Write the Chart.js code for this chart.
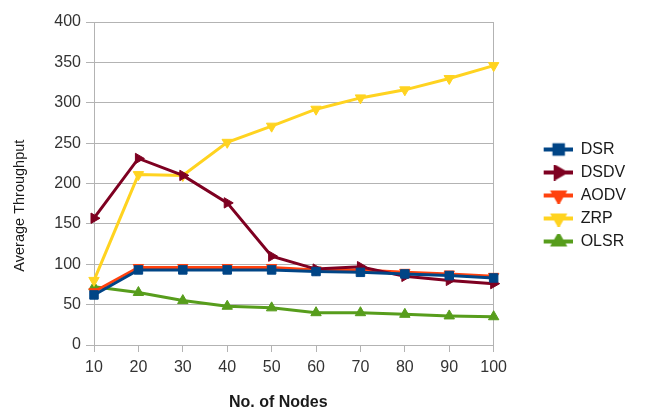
<!DOCTYPE html>
<html>
<head>
<meta charset="utf-8">
<script src="https://cdn.jsdelivr.net/npm/chart.js@4/dist/chart.umd.min.js"></script>
<style>
  html, body { margin: 0; padding: 0; background: #fff; }
  #wrap { width: 668px; height: 412px; }
</style>
</head>
<body>
<div id="wrap"><canvas id="myChart" width="668" height="412"></canvas></div>
<script>
'use strict';
const nodes = ['10', '20', '30', '40', '50', '60', '70', '80', '90', '100'];
const dsr = [62, 93, 93, 93, 93, 91, 90, 88, 86, 83];
const dsdv = [157, 231, 210, 176, 110, 94, 97, 85, 80, 76];
const aodv = [66, 96, 96, 96, 96, 93, 93, 90, 88, 85];
const zrp = [80, 211, 210, 251, 271, 292, 306, 316, 330, 346];
const olsr = [72, 65, 55, 48, 46, 40, 40, 38, 36, 35];
const yTicks = [0, 50, 100, 150, 200, 250, 300, 350, 400];

const font = 'Liberation Sans, Arial, sans-serif';
const gridColor = '#b3b3b3';

// line + marker picture for each legend entry, blank space on its left
// keeps the legend clear of the plot like in the original
function legendIcon(color, style, rotation) {
  const c = document.createElement('canvas');
  c.width = 72;
  c.height = 16;
  const g = c.getContext('2d');
  g.strokeStyle = color;
  g.lineWidth = 4;
  g.beginPath();
  g.moveTo(43, 8);
  g.lineTo(72, 8);
  g.stroke();
  g.fillStyle = color;
  Chart.helpers.drawPoint(g, { pointStyle: style, radius: 6, rotation: rotation, borderWidth: 1 }, 58, 8);
  g.fill();
  return c;
}

function series(label, data, color, style, rotation) {
  return {
    label: label,
    data: data,
    borderColor: color,
    backgroundColor: color,
    borderWidth: 3,
    pointStyle: style,
    pointRotation: rotation,
    pointRadius: 6,
    pointHoverRadius: 6,
    pointBorderWidth: 1,
    tension: 0,
    legendIcon: legendIcon(color, style, rotation),
  };
}

const ctx = document.getElementById('myChart');
const myChart = new Chart(ctx, {
  type: 'line',
  data: {
    labels: nodes,
    datasets: [
      series('DSR', dsr, '#004586', 'rect', 0),
      series('DSDV', dsdv, '#7e0021', 'triangle', 90),
      series('AODV', aodv, '#ff420e', 'triangle', 180),
      series('ZRP', zrp, '#ffd320', 'triangle', 180),
      series('OLSR', olsr, '#579d1c', 'triangle', 0),
    ],
  },
  options: {
    responsive: false,
    animation: false,
    layout: { padding: { top: 22, left: 11, right: 32, bottom: 0 } },
    plugins: {
      tooltip: { enabled: false },
      legend: {
        position: 'right',
        fullSize: false,
        title: { display: true, text: ' ', font: { size: 10 }, padding: 6 },
        labels: {
          usePointStyle: true,
          pointStyleWidth: 72,
          padding: 7,
          color: '#1a1a1a',
          font: { family: font, size: 16 },
          generateLabels: chart =>
            chart.data.datasets.map((ds, i) => ({
              text: ds.label,
              pointStyle: ds.legendIcon,
              fillStyle: ds.borderColor,
              strokeStyle: ds.borderColor,
              lineWidth: 0,
              fontColor: '#1a1a1a',
              datasetIndex: i,
              hidden: false,
            })),
        },
      },
    },
    scales: {
      x: {
        offset: false,
        title: {
          display: true,
          // trailing spaces nudge the title a little left, as in the original
          text: 'No. of Nodes       ',
          color: '#1a1a1a',
          font: { family: font, size: 16, weight: 'bold' },
          padding: { top: 8, bottom: 0 },
        },
        ticks: { color: '#333', font: { family: font, size: 16 }, padding: 6, maxRotation: 0 },
        grid: {
          drawOnChartArea: true,
          color: c => (c.index === nodes.length - 1 ? gridColor : 'rgba(0,0,0,0)'),
          tickColor: gridColor,
          tickLength: 7,
        },
        border: { display: true, color: gridColor },
        afterFit: axis => { axis.height = 67; },
      },
      y: {
        min: 0,
        max: 400,
        afterBuildTicks: axis => { axis.ticks = yTicks.map(v => ({ value: v })); },
        title: {
          display: true,
          // trailing spaces push the rotated title down a bit
          text: 'Average Throughput           ',
          color: '#1a1a1a',
          font: { family: font, size: 14.5 },
          padding: { top: 0, bottom: 4 },
        },
        ticks: { color: '#333', font: { family: font, size: 16 }, padding: 5 },
        grid: { color: gridColor, tickColor: gridColor, tickLength: 8 },
        border: { display: true, color: gridColor },
        afterFit: axis => { axis.width = 83; },
      },
    },
  },
});
</script>
</body>
</html>
